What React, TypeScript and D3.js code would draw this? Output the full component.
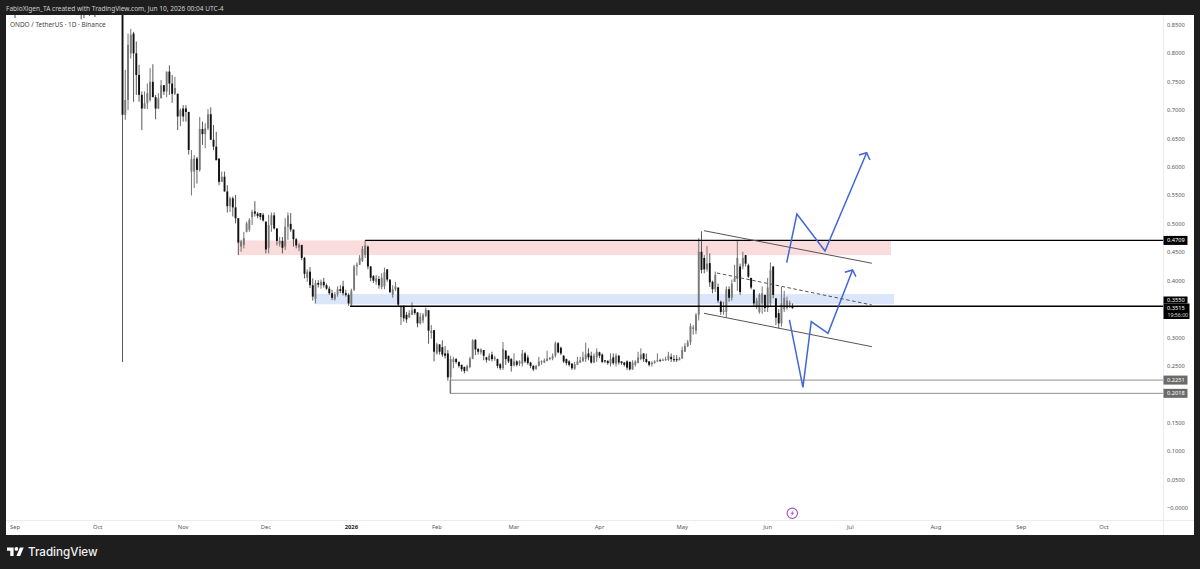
import React from "react";
import * as d3 from "d3";

// days are counted from 1 Sep 2025
const firstCandleDay = 39;
const opens = [
.95,.692,.718,.800,.835,.800,.762,.727,.703,.712,
.718,.750,.723,.703,.721,.744,.733,.768,.747,.729,
.729,.689,.703,.703,.697,.592,.592,.615,.595,.667,
.658,.668,.693,.648,.636,.615,.574,.583,.557,.531,
.545,.529,.510,.460,.463,.486,.490,.512,.522,.518,
.519,.516,.504,.458,.498,.515,.492,.465,.470,.460,
.495,.500,.490,.473,.458,.463,.440,.405,.416,.392,
.368,.396,.392,.398,.392,.386,.378,.368,.376,.385,
.390,.378,.375,.358,.384,.425,.428,.435,.445,.460,
.425,.408,.398,.403,.389,.390,.420,.402,.375,.385,
.388,.336,.356,.340,.335,.340,.350,.344,.325,.330,
.338,.348,.308,.313,.272,.288,.283,.272,.272,.230,
.257,.262,.257,.252,.248,.242,.248,.262,.296,.280,
.274,.278,.265,.260,.270,.262,.262,.253,.246,.277,
.268,.262,.251,.258,.254,.254,.272,.265,.256,.250,
.245,.250,.256,.256,.259,.262,.263,.268,.290,.282,
.268,.262,.258,.254,.245,.252,.256,.259,.262,.272,
.268,.256,.265,.274,.270,.260,.259,.254,.265,.254,
.268,.258,.256,.258,.257,.244,.252,.255,.262,.272,
.262,.258,.253,.255,.258,.260,.259,.260,.261,.266,
.262,.262,.260,.263,.275,.285,.292,.315,.312,.340,
.451,.440,.420,.431,.398,.385,.389,.363,.345,.345,
.385,.370,.398,.403,.425,.425,.445,.427,.405,.384,
.355,.345,.360,.375,.352,.360,.425,.369,.343,.325,
.350,.352,.358,.355];
const highs = [
1.0,.771,.835,.843,.838,.821,.780,.733,.733,.747,
.774,.781,.727,.730,.753,.744,.768,.779,.762,.759,
.729,.703,.709,.709,.697,.630,.621,.618,.688,.680,
.677,.702,.705,.674,.662,.615,.592,.592,.568,.548,
.548,.551,.510,.472,.486,.504,.510,.525,.540,.521,
.519,.519,.504,.516,.520,.520,.492,.477,.477,.510,
.520,.519,.490,.475,.466,.463,.442,.420,.424,.404,
.401,.401,.402,.405,.395,.390,.384,.380,.390,.392,
.400,.384,.378,.386,.428,.432,.445,.461,.4709,.462,
.426,.410,.410,.408,.413,.423,.420,.402,.392,.398,
.388,.356,.356,.345,.348,.362,.351,.345,.343,.343,
.353,.348,.322,.313,.291,.288,.295,.285,.278,.268,
.266,.264,.258,.252,.249,.252,.266,.297,.297,.281,
.281,.278,.266,.272,.275,.268,.263,.255,.292,.278,
.268,.264,.272,.260,.260,.278,.275,.269,.257,.252,
.252,.266,.260,.263,.277,.266,.272,.293,.292,.284,
.269,.263,.260,.255,.257,.266,.266,.275,.291,.281,
.275,.272,.281,.275,.272,.260,.260,.272,.272,.272,
.269,.258,.257,.260,.258,.260,.260,.275,.281,.272,
.272,.258,.258,.260,.272,.263,.263,.266,.275,.272,
.269,.269,.266,.284,.290,.296,.325,.322,.343,.475,
.487,.445,.461,.448,.400,.416,.395,.365,.363,.390,
.390,.402,.428,.472,.430,.451,.445,.430,.405,.385,
.370,.378,.390,.375,.405,.432,.425,.369,.350,.389,
.382,.372,.365,.360];
const lows = [
.257,.683,.700,.791,.715,.727,.715,.665,.703,.702,
.715,.723,.684,.702,.721,.727,.723,.727,.713,.727,
.665,.672,.680,.680,.622,.550,.563,.571,.592,.639,
.633,.665,.648,.630,.612,.568,.574,.557,.520,.521,
.513,.501,.445,.451,.457,.485,.486,.498,.513,.510,
.507,.504,.448,.448,.486,.490,.462,.460,.448,.454,
.472,.486,.460,.457,.452,.436,.404,.398,.387,.365,
.360,.388,.386,.388,.384,.375,.366,.365,.372,.378,
.374,.372,.356,.354,.382,.409,.428,.433,.440,.420,
.399,.396,.393,.386,.385,.385,.398,.378,.370,.382,
.354,.322,.328,.326,.335,.340,.340,.318,.323,.325,
.336,.289,.298,.258,.270,.270,.266,.263,.224,.2018,
.246,.254,.247,.240,.237,.240,.246,.262,.269,.270,
.270,.260,.256,.259,.258,.259,.246,.243,.243,.252,
.255,.240,.249,.249,.250,.249,.255,.252,.246,.241,
.243,.249,.252,.255,.258,.260,.260,.265,.272,.269,
.255,.251,.249,.243,.243,.252,.255,.257,.257,.260,
.254,.255,.257,.264,.255,.255,.252,.249,.252,.249,
.252,.252,.249,.243,.242,.243,.249,.255,.260,.257,
.255,.249,.249,.254,.257,.257,.259,.259,.259,.257,
.257,.257,.260,.263,.275,.283,.287,.305,.306,.330,
.413,.413,.416,.389,.378,.380,.361,.340,.340,.335,
.363,.365,.398,.382,.375,.420,.425,.405,.385,.354,
.350,.342,.342,.345,.345,.355,.369,.322,.316,.319,
.345,.349,.352,.351];
const closes = [
.692,.718,.815,.833,.800,.762,.727,.703,.712,.730,
.750,.723,.703,.721,.744,.733,.768,.747,.729,.739,
.689,.700,.689,.697,.630,.614,.615,.595,.667,.658,
.668,.693,.648,.636,.612,.574,.583,.557,.531,.545,
.529,.510,.467,.469,.475,.501,.507,.521,.518,.514,
.512,.506,.455,.498,.515,.492,.470,.470,.458,.495,
.515,.490,.473,.462,.463,.440,.412,.416,.392,.372,
.396,.393,.398,.392,.386,.378,.370,.376,.385,.382,
.378,.375,.360,.383,.425,.428,.440,.456,.462,.425,
.405,.400,.404,.392,.405,.415,.402,.380,.385,.390,
.358,.354,.334,.332,.343,.348,.343,.325,.337,.340,
.349,.312,.312,.275,.288,.275,.270,.268,.230,.262,
.262,.257,.250,.244,.241,.250,.263,.295,.279,.275,
.279,.268,.261,.268,.262,.265,.250,.246,.280,.262,
.258,.250,.258,.252,.258,.272,.258,.255,.250,.244,
.250,.258,.258,.260,.263,.264,.267,.290,.274,.272,
.258,.255,.252,.246,.253,.258,.260,.265,.270,.265,
.256,.268,.275,.268,.257,.258,.255,.262,.255,.268,
.256,.255,.252,.247,.244,.256,.258,.265,.270,.262,
.257,.252,.256,.258,.260,.259,.261,.262,.268,.262,
.260,.260,.263,.278,.285,.292,.320,.318,.340,.451,
.419,.420,.430,.397,.385,.410,.365,.345,.348,.385,
.370,.395,.405,.440,.380,.440,.430,.407,.388,.360,
.365,.375,.378,.352,.388,.418,.375,.335,.325,.360,
.370,.365,.361,.3515];

// wicks of the September candles, whose bodies sit above the visible range
const septemberDays = [0, 24, 25, 27, 29];
const septemberLows = [0.862, 0.86, 0.862, 0.866, 0.864];

const monthDays = [0, 30, 61, 91, 122, 153, 181, 212, 242, 273, 303, 334, 365, 395];
const monthLabels = ["Sep", "Oct", "Nov", "Dec", "2026", "Feb", "Mar", "Apr", "May", "Jun", "Jul", "Aug", "Sep", "Oct"];
const priceTicks = [0.85, 0.8, 0.75, 0.7, 0.65, 0.6, 0.55, 0.5, 0.45, 0.4, 0.35, 0.3, 0.25, 0.2, 0.15, 0.1, 0.05, 0];
const hiddenPriceTicks = [0.35];

const redZone = { fromDay: 81, toDay: 317.7, top: 0.4709, bottom: 0.445 };
const blueZone = { fromDay: 108.5, toDay: 318.8, top: 0.3765, bottom: 0.3585 };

const resistance = { fromDay: 127, price: 0.4709 };
const support = { fromDay: 121.5, price: 0.355 };
const lowLines = [
  { fromDay: 157.8, price: 0.2251, label: "0.2251" },
  { fromDay: 157.8, price: 0.2018, label: "0.2018" },
];

const channelDays = [249.9, 310.8];
const channelTop = [0.488, 0.4307];
const channelBottom = [0.3427, 0.2839];
const channelMidDays = [254.6, 310.8];
const channelMid = [0.4136, 0.3573];

const arrowUpDays = [279.9, 283.6, 293.8, 308.9];
const arrowUpPrices = [0.4317, 0.5174, 0.4523, 0.6253];
const arrowUpHeadDays = [306.1, 308.9, 310.1];
const arrowUpHeadPrices = [0.6213, 0.6253, 0.6125];
const arrowDownDays = [280.9, 285.8, 288.8, 294.9, 303.8];
const arrowDownPrices = [0.3309, 0.2124, 0.3279, 0.3075, 0.4189];
const arrowDownHeadDays = [301.0, 303.8, 305.0];
const arrowDownHeadPrices = [0.4148, 0.4189, 0.4071];

const headerText = "FabioXlgen_TA created with TradingView.com, Jun 10, 2026 00:04 UTC-4";
const legendText = "ONDO / TetherUS · 1D · Binance";

const FONT = '"Noto Sans", "Open Sans", sans-serif';

export default function App() {
  const x = d3.scaleLinear().domain([0, 395]).range([15, 15 + 395 * 2.757]);
  const y = d3.scaleLinear().domain([0, 0.85]).range([508, 25]);
  const polyline = (days: number[], prices: number[]) =>
    d3.line<number>().x((d) => x(d)).y((_, i) => y(prices[i]))(days) as string;

  const fmt = d3.format(".4f");
  const axisX = 1163;
  const plotBottom = 520;
  const labelSize = 5.7;
  const boxLabel = (p: number, text: string, fill: string, w = 24) => (
    <g key={text}>
      <rect x={axisX + 0.5} y={y(p) - 4.5} width={w} height={9} fill={fill} />
      <text x={1167} y={y(p) + 2} fontSize={labelSize} fill="#fff" fontFamily={FONT}>{text}</text>
    </g>
  );

  return (
    <svg width={1200} height={569} style={{ position: "absolute", left: 0, top: 0, display: "block" }}>
      <defs>
        <clipPath id="plot"><rect x={6} y={15} width={axisX - 6} height={plotBottom - 15} /></clipPath>
      </defs>
      <rect width={1200} height={569} fill="#1e1e1e" />
      <rect x={6} y={15} width={1188} height={520} fill="#fff" />
      <line x1={6} x2={1194} y1={plotBottom + 0.5} y2={plotBottom + 0.5} stroke="#ececec" />
      <line x1={axisX + 0.5} x2={axisX + 0.5} y1={15} y2={535} stroke="#ececec" />

      <text x={6} y={11} fontSize={6.55} fill="#cfcfcf" fontFamily={FONT}>{headerText}</text>
      <text x={10} y={26.5} fontSize={6.45} fill="#444" fontFamily={FONT}>{legendText}</text>

      <g clipPath="url(#plot)">
        <rect x={x(redZone.fromDay)} width={x(redZone.toDay) - x(redZone.fromDay)} y={y(redZone.top)} height={y(redZone.bottom) - y(redZone.top)} fill="#fbdcdd" />
        <rect x={x(blueZone.fromDay)} width={x(blueZone.toDay) - x(blueZone.fromDay)} y={y(blueZone.top)} height={y(blueZone.bottom) - y(blueZone.top)} fill="#dce6fa" />

        {septemberDays.map((d, i) => (
          <line key={"s" + i} x1={x(d)} x2={x(d)} y1={y(0.95)} y2={y(septemberLows[i])} stroke="#222" strokeWidth={0.8} />
        ))}

        <line x1={x(lowLines[0].fromDay)} x2={x(lowLines[0].fromDay)} y1={y(lowLines[0].price)} y2={y(lowLines[1].price)} stroke="#888" strokeWidth={1} />
        {lowLines.map((l) => (
          <line key={l.label} x1={x(l.fromDay)} x2={axisX} y1={y(l.price)} y2={y(l.price)} stroke="#909090" strokeWidth={1} />
        ))}

        {opens.map((o, i) => {
          const c = closes[i];
          const cx = x(firstCandleDay + i);
          const up = c >= o;
          const top = y(Math.max(o, c));
          const bottom = y(Math.min(o, c));
          return (
            <g key={i}>
              <line x1={cx} x2={cx} y1={y(highs[i])} y2={y(lows[i])} stroke={up ? "#6c6c6c" : "#505050"} strokeWidth={0.95} />
              <rect x={cx - 0.95} width={1.9} y={top} height={Math.max(bottom - top, 0.8)} fill={up ? "#7a7a7a" : "#111"} />
            </g>
          );
        })}

        <line x1={x(resistance.fromDay)} x2={axisX} y1={y(resistance.price)} y2={y(resistance.price)} stroke="#000" strokeWidth={1.4} />
        <line x1={x(support.fromDay)} x2={axisX} y1={y(support.price)} y2={y(support.price)} stroke="#000" strokeWidth={1.4} />

        <path d={polyline(channelDays, channelTop)} fill="none" stroke="#555" strokeWidth={1} />
        <path d={polyline(channelDays, channelBottom)} fill="none" stroke="#555" strokeWidth={1} />
        <path d={polyline(channelMidDays, channelMid)} fill="none" stroke="#555" strokeWidth={1} strokeDasharray="3.5 2.5" />

        <g fill="none" stroke="#3f67d6" strokeWidth={1.5} strokeLinejoin="miter">
          <path d={polyline(arrowUpDays, arrowUpPrices)} />
          <path d={polyline(arrowUpHeadDays, arrowUpHeadPrices)} />
          <path d={polyline(arrowDownDays, arrowDownPrices)} />
          <path d={polyline(arrowDownHeadDays, arrowDownHeadPrices)} />
        </g>
      </g>

      {priceTicks.filter((p) => !hiddenPriceTicks.includes(p)).map((p) => (
        <text key={p} x={1167} y={y(p) + 2} fontSize={labelSize} fill="#555" fontFamily={FONT}>
          {p === 0 ? "−0.0000" : fmt(p)}
        </text>
      ))}
      {monthDays.map((d, i) => (
        <text key={i} x={x(d)} y={529} fontSize={5.8} textAnchor="middle" fill={monthLabels[i] === "2026" ? "#222" : "#555"} fontWeight={monthLabels[i] === "2026" ? 700 : 400} fontFamily={FONT}>
          {monthLabels[i]}
        </text>
      ))}

      {boxLabel(resistance.price, "0.4709", "#000")}
      <rect x={axisX + 0.5} y={296.5} width={24} height={7} fill="#000" />
      <text x={1167} y={302.3} fontSize={labelSize} fill="#fff" fontFamily={FONT}>{fmt(support.price)}</text>
      <rect x={axisX + 0.5} y={303.5} width={26} height={15.5} fill="#000" />
      <text x={1167} y={310} fontSize={labelSize} fill="#fff" fontFamily={FONT}>{fmt(closes[closes.length - 1])}</text>
      <text x={1167.5} y={317} fontSize={5.2} fill="#ddd" fontFamily={FONT}>19:56:00</text>
      {lowLines.map((l) => boxLabel(l.price, l.label, "#6a6a6a"))}

      <g transform="translate(792.3 513.3)">
        <circle r={5.2} fill="#fff" stroke="#a050c4" strokeWidth={1.1} />
        <path d="M1.2 -3 L-1.8 0.5 L-0.2 0.5 L-1.2 3 L1.8 -0.5 L0.2 -0.5 Z" fill="#a050c4" />
      </g>

      <g transform="translate(7 545.7) scale(0.47)" fill="#fff">
        <path d="M14 22H7V11H0V4h14v18zM28 22h-8l7.5-18h8L28 22z" />
        <circle cx={20} cy={7} r={4} />
      </g>
      <text x={28} y={556} fontSize={11.6} fontWeight={500} fill="#f2f2f2" fontFamily='Inter, "Noto Sans", sans-serif'>TradingView</text>
    </svg>
  );
}
